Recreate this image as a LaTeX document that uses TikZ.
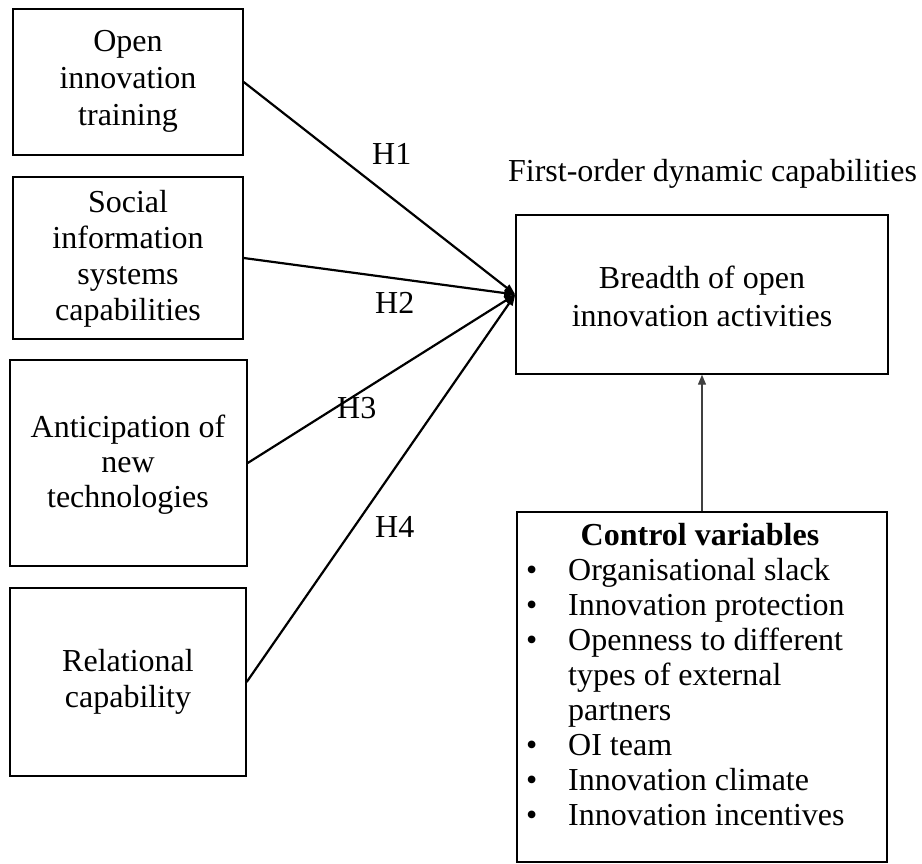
\documentclass[tikz,border=0pt]{standalone}
\usepackage{fontspec}
\setmainfont{Liberation Serif}
\usetikzlibrary{arrows.meta}
\begin{document}
\begin{tikzpicture}[x=1pt,y=-1pt,
  txt/.style={font=\fontsize{32}{35}\selectfont},
  box/.style={draw, line width=1.4pt, rectangle, inner sep=0pt},
  btxt/.style={txt, inner sep=0pt, align=center},
  hyp/.style={-{Triangle[length=11pt,width=8pt]}, line width=2.2pt},
  ctl/.style={-{Triangle[length=10pt,width=8pt]}, line width=1.3pt, draw=black!75},
  lab/.style={txt, inner sep=0pt, anchor=base west}
]
\useasboundingbox (0,0) rectangle (922,864);
\fill[white] (0,0) rectangle (922,864);

\node[box, minimum width=230pt, minimum height=146pt] (b1) at (128,82) {};
\node[box, minimum width=230pt, minimum height=162pt] (b2) at (128,258) {};
\node[box, minimum width=237pt, minimum height=206pt] (b3) at (128.5,463) {};
\node[box, minimum width=236pt, minimum height=188pt] (b4) at (128,682) {};
\node[box, minimum width=372pt, minimum height=159pt] (br) at (702,294.5) {};
\node[box, minimum width=370pt, minimum height=350pt] (ctrl) at (702,687) {};

\node[btxt, font=\fontsize{32}{37}\selectfont] (t1) at (128,81) {Open\\innovation\\training};
\node[btxt, font=\fontsize{32}{36}\selectfont] (t2) at (128,259) {Social\\information\\systems\\capabilities};
\node[btxt] (t3) at (128,465) {Anticipation of\\new\\technologies};
\node[btxt, font=\fontsize{32}{36}\selectfont] (t4) at (128,682) {Relational\\capability};
\node[btxt, font=\fontsize{32}{38}\selectfont] (tbr) at (702,296) {Breadth of open\\innovation activities};

\node[txt, inner sep=0pt, anchor=base] (ttl) at (712.5,182) {First-order dynamic capabilities};
\node[txt, inner sep=0pt, anchor=base] (ctitle) at (700,545) {\bfseries Control variables};

\foreach \t/\y/\b [count=\i] in {Organisational slack/580/1, Innovation protection/615/1, Openness to different/650/1, types of external/685/0, partners/720/0, OI team/755/1, Innovation climate/790/1, Innovation incentives/825/1}{
  \node[lab] (it\i) at (568,\y) {\t};
  \ifnum\b=1 \node[lab] (bu\i) at (526,\y) {\textbullet}; \fi
}

\draw[hyp] (b1.east) -- (br.west);
\draw[hyp] (b2.east) -- (br.west);
\draw[hyp] (b3.east) -- (br.west);
\draw[hyp] (b4.east) -- (br.west);
\draw[ctl] (ctrl.north) -- (br.south);

\node[lab] (h1) at (372,165) {H1};
\node[lab] (h2) at (375,313) {H2};
\node[lab] (h3) at (337,418) {H3};
\node[lab] (h4) at (375,537) {H4};
\end{tikzpicture}
\end{document}
